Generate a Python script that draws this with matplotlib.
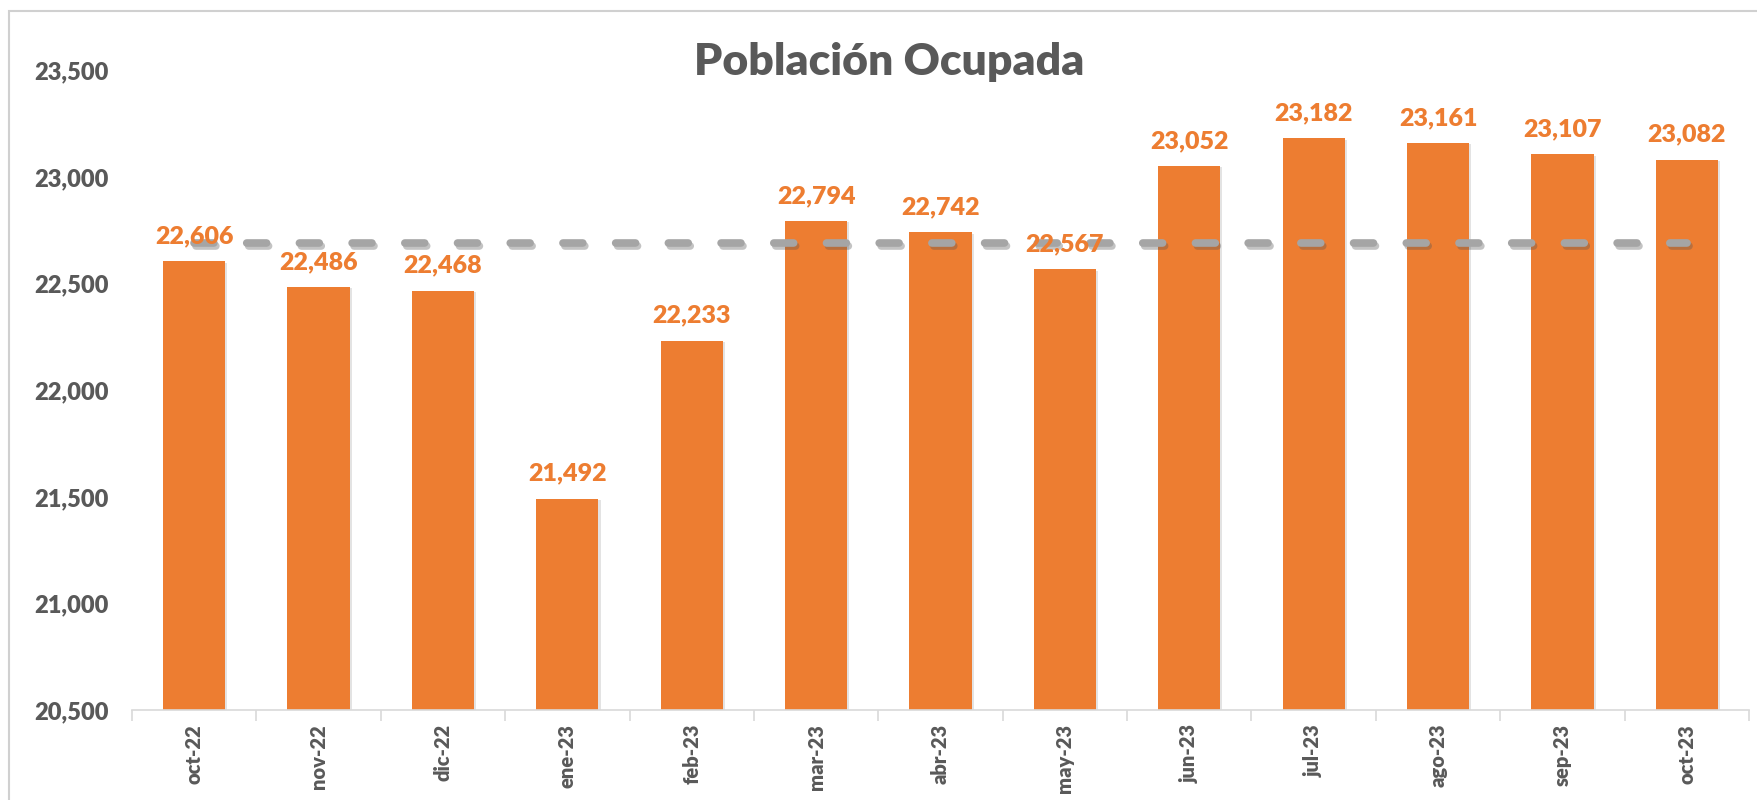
import matplotlib
matplotlib.use("Agg")
import matplotlib.pyplot as plt
import matplotlib.patheffects as pe
from matplotlib.patches import Rectangle

# data
meses = ["oct-22", "nov-22", "dic-22", "ene-23", "feb-23", "mar-23", "abr-23",
         "may-23", "jun-23", "jul-23", "ago-23", "sep-23", "oct-23"]
ocupada = [22606, 22486, 22468, 21492, 22233, 22794, 22742,
           22567, 23052, 23182, 23161, 23107, 23082]
promedio = 22690  # dashed reference line
y_ticks = [20500, 21000, 21500, 22000, 22500, 23000, 23500]

naranja = "#ED7D31"
gris_txt = "#595959"
gris_linea = "#A5A5A5"

plt.rcParams["font.family"] = ["Lato", "DejaVu Sans"]
plt.rcParams["font.weight"] = "bold"

fig = plt.figure(figsize=(17.58, 8), dpi=100)
ax = fig.add_axes([132 / 1758, 1 - 710 / 800, (1749 - 132) / 1758, (710 - 70.6) / 800])

x = list(range(len(meses)))
bars = ax.bar(x, [v - 20500 for v in ocupada], bottom=20500, width=0.5,
              color=naranja, zorder=2)
for b in bars:
    b.set_path_effects([pe.SimplePatchShadow(offset=(1.5, -1), alpha=0.15, shadow_rgbFace="#444444"),
                        pe.Normal()])

# dashed average line
ln, = ax.plot(x, [promedio] * len(x), color=gris_linea, lw=5.5,
              dashes=(2.6, 4.3), dash_capstyle="round", zorder=3)
ln.set_path_effects([pe.SimpleLineShadow(offset=(1.5, -2), alpha=0.35, shadow_color="#555555"),
                     pe.Normal()])

# data labels
for i, v in enumerate(ocupada):
    ax.annotate(f"{v:,}", (i, v), xytext=(0, 10), textcoords="offset points",
                ha="center", va="bottom", color=naranja, fontsize=18,
                fontweight="heavy", zorder=4)

ax.set_xlim(-0.5, len(meses) - 0.5)
ax.set_ylim(20500, 23500)
ax.set_yticks(y_ticks)
ax.set_yticklabels([f"{t:,}" for t in y_ticks])
ax.set_xticks(x)
ax.set_xticklabels(meses, rotation=90)
ax.set_xticks([i - 0.5 for i in range(len(meses) + 1)], minor=True)

ax.tick_params(axis="y", length=0, pad=17, labelsize=17, labelcolor=gris_txt)
ax.tick_params(axis="x", which="major", length=0, pad=10, labelsize=14.5, labelcolor=gris_txt)
ax.tick_params(axis="x", which="minor", length=8, width=1.2, color="#D9D9D9")
for lab in ax.get_xticklabels() + ax.get_yticklabels():
    lab.set_fontweight("heavy")

for s in ["top", "right", "left"]:
    ax.spines[s].set_visible(False)
ax.spines["bottom"].set_color("#D9D9D9")
ax.spines["bottom"].set_linewidth(1.2)

fig.text(889 / 1758, 1 - 62 / 800, "Población Ocupada", ha="center", va="center",
         fontsize=32, fontweight="heavy", color=gris_txt)

# chart frame
fig.patches.append(Rectangle((9 / 1758, -0.1), 1.2, 1.1 - 11 / 800, transform=fig.transFigure,
                             fill=False, edgecolor="#D0D0D0", lw=1.5))

fig.savefig("out.png", dpi=100)
